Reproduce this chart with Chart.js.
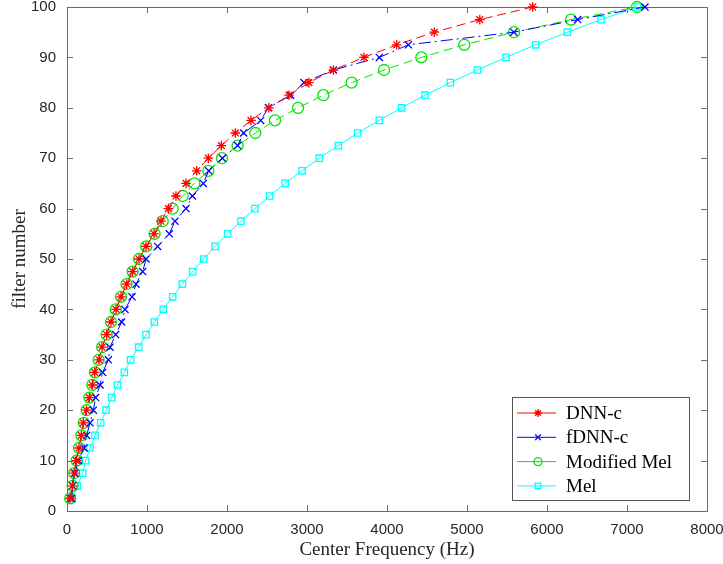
<!DOCTYPE html>
<html>
<head>
<meta charset="utf-8">
<script src="https://cdn.jsdelivr.net/npm/chart.js@4.4.0/dist/chart.umd.min.js"></script>
<style>
  html, body { margin: 0; padding: 0; background: #fff; }
</style>
</head>
<body>
<canvas id="chart" width="723" height="564"></canvas>
<script>
// filter index (y) shared by all curves
const filterNumbers = [2.5, 5, 7.5, 10, 12.5, 15, 17.5, 20, 22.5, 25,
  27.5, 30, 32.5, 35, 37.5, 40, 42.5, 45, 47.5, 50,
  52.5, 55, 57.5, 60, 62.5, 65, 67.5, 70, 72.5, 75,
  77.5, 80, 82.5, 85, 87.5, 90, 92.5, 95, 97.5, 100];

// center frequencies in Hz
const dnnC = [37, 67, 88, 117, 150, 179, 204, 242, 279, 317,
  346, 400, 438, 496, 550, 613, 675, 746, 821, 900,
  988, 1088, 1175, 1267, 1362, 1488, 1621, 1767, 1929, 2104,
  2300, 2523, 2775, 3023, 3329, 3712, 4121, 4591, 5160, 5820];
const fdnnC = [58, 71, 100, 142, 213, 246, 288, 329, 358, 413,
  446, 517, 538, 608, 683, 725, 813, 863, 946, 988,
  1133, 1279, 1350, 1488, 1567, 1704, 1771, 1942, 2133, 2208,
  2421, 2517, 2796, 2963, 3329, 3904, 4267, 5585, 6383, 7225];
const modifiedMel = [40, 70, 90, 120, 150, 180, 210, 245, 280, 315,
  350, 395, 440, 495, 550, 610, 675, 745, 820, 900,
  990, 1095, 1196, 1321, 1446, 1592, 1767, 1937, 2133, 2354,
  2600, 2888, 3204, 3558, 3963, 4429, 4966, 5588, 6300, 7125];
const mel = [58, 129, 196, 233, 288, 350, 421, 488, 558, 633,
  717, 796, 896, 988, 1092, 1204, 1321, 1442, 1571, 1708,
  1850, 2008, 2175, 2348, 2533, 2727, 2938, 3154, 3392, 3633,
  3904, 4183, 4475, 4792, 5131, 5488, 5858, 6254, 6675, 7133];

const xTicks = [0, 1000, 2000, 3000, 4000, 5000, 6000, 7000, 8000];
const yTicks = [0, 10, 20, 30, 40, 50, 60, 70, 80, 90, 100];

const tickFont = { family: "'Liberation Sans', Arial, sans-serif", size: 15 };
const titleFont = { family: "'Liberation Serif', 'Times New Roman', serif", size: 19 };

function toPoints(xs) {
  return xs.map((x, i) => ({ x: x, y: filterNumbers[i] }));
}

function series(label, xs, color, style, radius, dash) {
  return {
    label: label,
    data: toPoints(xs),
    showLine: true,
    borderColor: color,
    borderWidth: 1,
    borderDash: dash,
    pointStyle: style,
    pointRadius: radius,
    pointHoverRadius: radius,
    pointBorderColor: color,
    pointBackgroundColor: "rgba(0,0,0,0)",
    pointBorderWidth: 1.3,
    clip: false,
  };
}

// MATLAB-like box with inward ticks on all four sides
const axesBox = {
  id: "axesBox",
  beforeDatasetsDraw(chart) {
    const { ctx, chartArea: a, scales } = chart;
    ctx.save();
    ctx.strokeStyle = "#6b6b6b";
    ctx.lineWidth = 1;
    ctx.strokeRect(a.left + 0.5, a.top + 0.5, a.right - a.left, a.bottom - a.top);
    ctx.beginPath();
    xTicks.forEach((v) => {
      const px = Math.round(scales.x.getPixelForValue(v)) + 0.5;
      ctx.moveTo(px, a.bottom);
      ctx.lineTo(px, a.bottom - 6);
      ctx.moveTo(px, a.top);
      ctx.lineTo(px, a.top + 6);
    });
    yTicks.forEach((v) => {
      const py = Math.round(scales.y.getPixelForValue(v)) + 0.5;
      ctx.moveTo(a.left, py);
      ctx.lineTo(a.left + 6, py);
      ctx.moveTo(a.right, py);
      ctx.lineTo(a.right - 6, py);
    });
    ctx.stroke();
    ctx.restore();
  },
};

// legend box in the lower right, line + marker per entry
const boxLegend = {
  id: "boxLegend",
  afterDraw(chart) {
    const { ctx, chartArea: a } = chart;
    const x0 = a.right - 195, y0 = a.bottom - 114, w = 177, h = 103;
    ctx.save();
    ctx.fillStyle = "#fff";
    ctx.fillRect(x0, y0, w, h);
    ctx.strokeStyle = "#555";
    ctx.lineWidth = 1;
    ctx.strokeRect(x0 + 0.5, y0 + 0.5, w, h);
    ctx.font = titleFont.size + "px " + titleFont.family;
    ctx.textBaseline = "middle";
    chart.data.datasets.forEach((ds, i) => {
      const y = y0 + 16 + i * 24.3;
      ctx.strokeStyle = ds.borderColor;
      ctx.lineWidth = 1;
      ctx.setLineDash([]);
      ctx.beginPath();
      ctx.moveTo(x0 + 5, y);
      ctx.lineTo(x0 + 44, y);
      ctx.stroke();
      ctx.fillStyle = "rgba(0,0,0,0)";
      ctx.lineWidth = 1.3;
      Chart.helpers.drawPoint(ctx, {
        pointStyle: ds.pointStyle,
        radius: Math.min(ds.pointRadius, 4),
        rotation: 0,
        borderWidth: 1.3,
      }, x0 + 26, y);
      ctx.fillStyle = "#000";
      ctx.fillText(ds.label, x0 + 54, y + 1);
    });
    ctx.restore();
  },
};

function zeroPadding(s) {
  s.paddingTop = 0;
  s.paddingBottom = 0;
  s.paddingLeft = 0;
  s.paddingRight = 0;
}

function drawChart() {
  new Chart(document.getElementById("chart"), {
    type: "scatter",
    data: {
      datasets: [
        series("DNN-c", dnnC, "#ff0000", "star", 4.8, [9, 5]),
        series("fDNN-c", fdnnC, "#0000ff", "crossRot", 5, [12, 4, 2, 4]),
        series("Modified Mel", modifiedMel, "#00e600", "circle", 5.5, [9, 5]),
        series("Mel", mel, "#00ffff", "rect", 4.5, []),
      ],
    },
    options: {
      responsive: false,
      devicePixelRatio: 1,
      animation: false,
      events: [],
      layout: { padding: { left: 0, right: 16, top: 7, bottom: 0 } },
      plugins: {
        legend: { display: false },
        tooltip: { enabled: false },
      },
      scales: {
        x: {
          type: "linear",
          min: 0,
          max: 8000,
          grid: { display: false },
          border: { display: false },
          ticks: {
            stepSize: 1000,
            maxRotation: 0,
            padding: 2,
            color: "#262626",
            font: tickFont,
            callback: (v) => String(v),
          },
          title: {
            display: true,
            text: "Center Frequency (Hz)",
            color: "#262626",
            font: titleFont,
            padding: { top: 0, bottom: 3 },
          },
          afterFit(s) {
            s.height = 53;
            zeroPadding(s);
          },
        },
        y: {
          min: 0,
          max: 100,
          grid: { display: false },
          border: { display: false },
          ticks: {
            stepSize: 10,
            padding: 3,
            color: "#262626",
            font: tickFont,
            callback: (v) => String(v),
          },
          title: {
            display: true,
            text: "filter number",
            color: "#262626",
            font: titleFont,
            padding: { top: 9, bottom: 0 },
          },
          afterFit(s) {
            s.width = 67;
            zeroPadding(s);
          },
        },
      },
    },
    plugins: [axesBox, boxLegend],
  });
}

window.addEventListener("load", () => {
  drawChart();
});
</script>
</body>
</html>
